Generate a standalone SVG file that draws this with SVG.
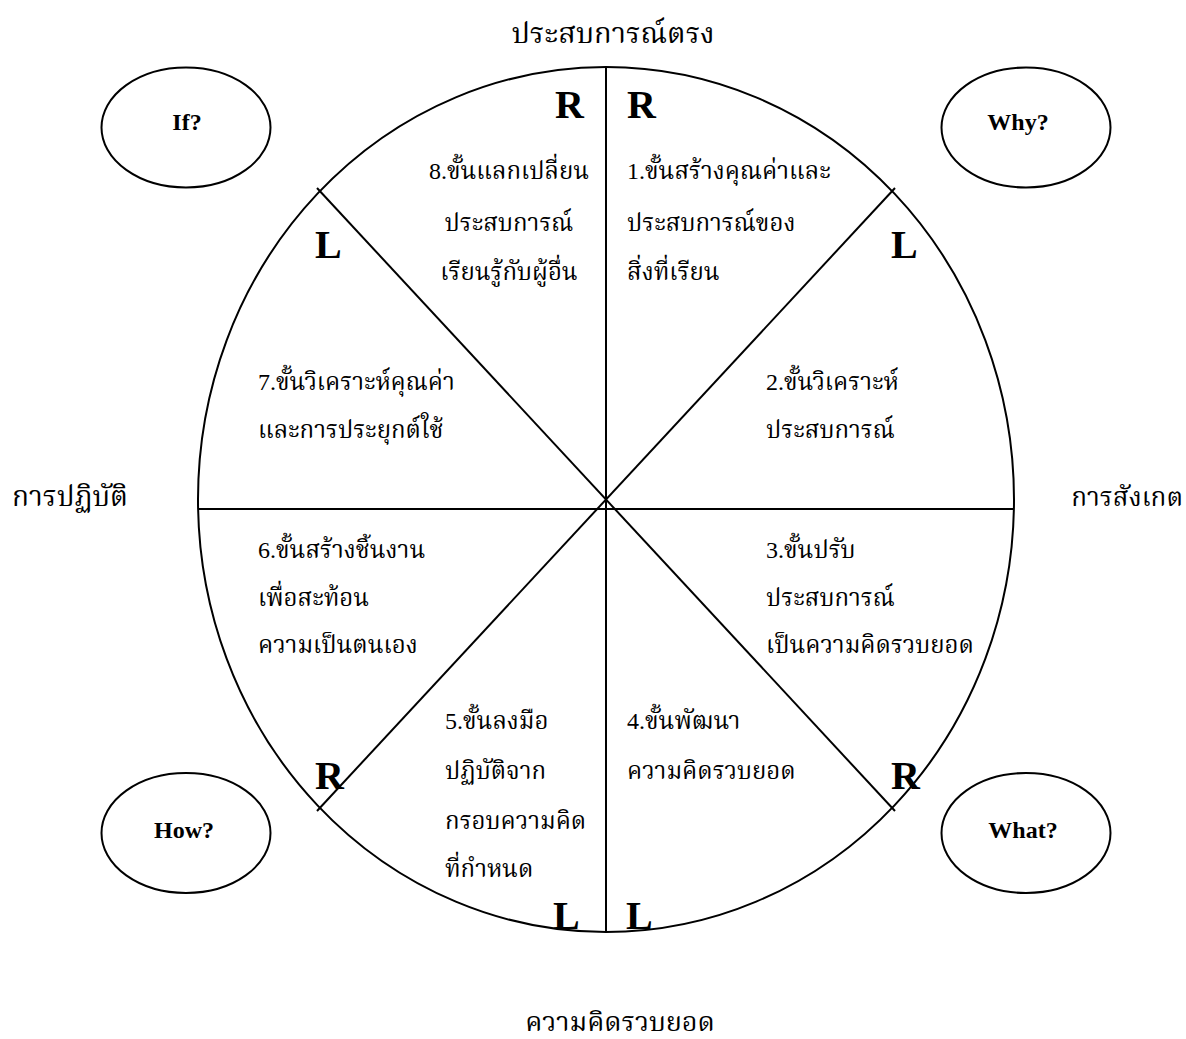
<svg xmlns="http://www.w3.org/2000/svg" width="1186" height="1039" viewBox="0 0 1186 1039">
<style>
.ln{stroke:#000;stroke-width:2;fill:none}
.th{font-family:"Liberation Serif","Noto Serif Thai","Noto Sans Thai",serif;font-size:24px;fill:#000}
.big{font-family:"Liberation Serif","Noto Serif Thai","Noto Sans Thai",serif;font-size:29px;fill:#000}
.rl{font-family:"Liberation Serif",serif;font-size:40px;font-weight:bold;fill:#000}
.q{font-family:"Liberation Serif",serif;font-size:24px;font-weight:bold;fill:#000;text-anchor:middle}
</style>
<rect width="1186" height="1039" fill="#fff"/>
<g id="wheel">
<ellipse class="ln" cx="606" cy="499.5" rx="408" ry="432.5"/>
</g>
<g id="connectors">
<line class="ln" x1="606" y1="67" x2="606" y2="932"/>
<line class="ln" x1="198" y1="509" x2="1014" y2="509"/>
<line class="ln" x1="317" y1="188" x2="895" y2="811"/>
<line class="ln" x1="895" y1="188" x2="317" y2="811"/>
</g>
<g id="if"><ellipse class="ln" cx="186" cy="127.5" rx="84.5" ry="60"/><text class="q" x="187" y="130">If?</text></g>
<g id="why"><ellipse class="ln" cx="1026" cy="127.5" rx="84.5" ry="60"/><text class="q" x="1018" y="130">Why?</text></g>
<g id="how"><ellipse class="ln" cx="186" cy="833" rx="84.5" ry="60"/><text class="q" x="184" y="838">How?</text></g>
<g id="what"><ellipse class="ln" cx="1026" cy="833" rx="84.5" ry="60"/><text class="q" x="1023" y="838">What?</text></g>
<g id="rl-labels">
<text class="rl" x="555" y="118">R</text>
<text class="rl" x="627" y="118">R</text>
<text class="rl" x="315" y="258">L</text>
<text class="rl" x="891" y="258">L</text>
<text class="rl" x="315" y="789">R</text>
<text class="rl" x="891" y="789">R</text>
<text class="rl" x="553" y="929">L</text>
<text class="rl" x="626" y="929">L</text>
</g>
<g id="axis-labels">
<text class="big" x="613" y="43" text-anchor="middle">ประสบการณ์ตรง</text>
<text class="big" x="12" y="506" style="font-size:28px">การปฏิบัติ</text>
<text class="big" x="1183" y="506" text-anchor="end" style="font-size:26px">การสังเกต</text>
<text class="big" x="620" y="1031" text-anchor="middle" style="font-size:27px">ความคิดรวบยอด</text>
</g>
<g id="step8" class="th" text-anchor="middle">
<text x="509" y="179">8.ขั้นแลกเปลี่ยน</text>
<text x="509" y="231">ประสบการณ์</text>
<text x="509" y="280">เรียนรู้กับผู้อื่น</text>
</g>
<g id="step1" class="th">
<text x="627" y="179">1.ขั้นสร้างคุณค่าและ</text>
<text x="627" y="231">ประสบการณ์ของ</text>
<text x="627" y="280">สิ่งที่เรียน</text>
</g>
<g id="step7" class="th">
<text x="258" y="390">7.ขั้นวิเคราะห์คุณค่า</text>
<text x="258" y="438">และการประยุกต์ใช้</text>
</g>
<g id="step2" class="th">
<text x="766" y="390">2.ขั้นวิเคราะห์</text>
<text x="766" y="438">ประสบการณ์</text>
</g>
<g id="step6" class="th">
<text x="258" y="558">6.ขั้นสร้างชิ้นงาน</text>
<text x="258" y="606">เพื่อสะท้อน</text>
<text x="258" y="653">ความเป็นตนเอง</text>
</g>
<g id="step3" class="th">
<text x="766" y="558">3.ขั้นปรับ</text>
<text x="766" y="606">ประสบการณ์</text>
<text x="766" y="653">เป็นความคิดรวบยอด</text>
</g>
<g id="step5" class="th">
<text x="445" y="729">5.ขั้นลงมือ</text>
<text x="445" y="779">ปฏิบัติจาก</text>
<text x="445" y="829">กรอบความคิด</text>
<text x="445" y="877">ที่กำหนด</text>
</g>
<g id="step4" class="th">
<text x="627" y="729">4.ขั้นพัฒนา</text>
<text x="627" y="779">ความคิดรวบยอด</text>
</g>
</svg>
